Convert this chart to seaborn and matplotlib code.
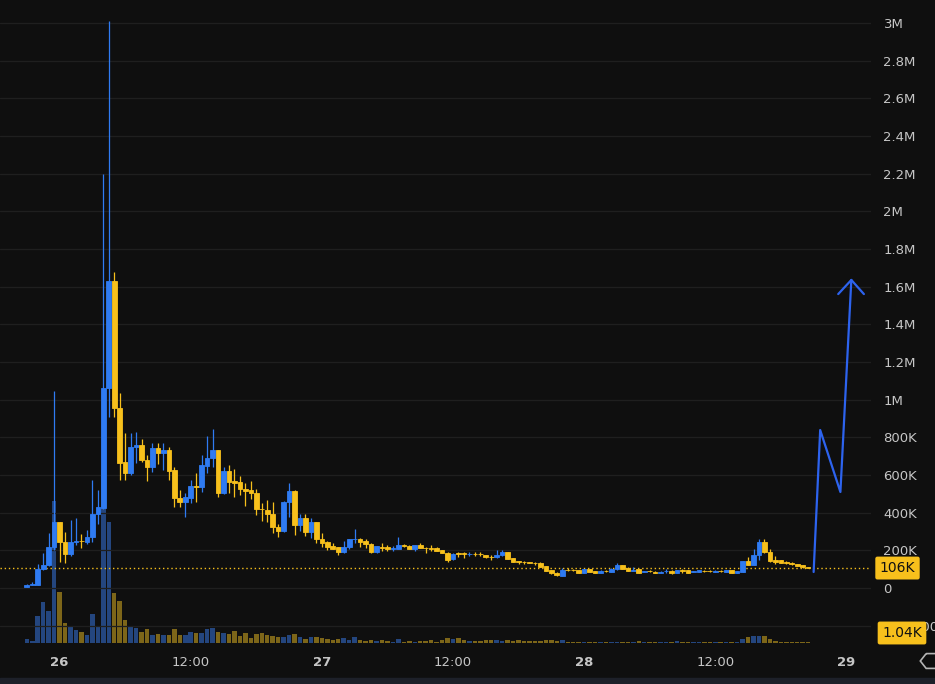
import numpy as np
import pandas as pd
import matplotlib
matplotlib.use("Agg")
import matplotlib.pyplot as plt
import seaborn as sns
from matplotlib.patches import Rectangle, RegularPolygon, Circle

# ---------------- data (prices in K, volume in K) ----------------
start_time = "2024-01-25 21:00"
opens_k = [4, 16, 16, 101, 120, 218, 349, 243, 182, 246,
           250, 246, 269, 393, 426, 1060, 1630, 956, 669, 609,
           747, 759, 680, 644, 742, 715, 733, 627, 480, 458,
           476, 540, 538, 649, 689, 733, 503, 621, 568, 563,
           526, 520, 503, 419, 414, 391, 322, 304, 458, 515,
           335, 370, 299, 352, 259, 244, 223, 216, 193, 216,
           258, 260, 250, 232, 193, 217, 219, 208, 209, 228,
           223, 209, 228, 215, 214, 214, 202, 188, 152, 185,
           185, 180, 182, 182, 174, 167, 163, 174, 191, 159,
           141, 138, 137, 135, 134, 117, 96, 81, 64, 97,
           96, 96, 81, 101, 90, 81, 91, 87, 99, 122,
           108, 92, 101, 85, 91, 87, 82, 89, 92, 81,
           93, 96, 85, 85, 92, 91, 87, 91, 87, 96,
           82, 87, 143, 122, 175, 246, 193, 149, 149, 140,
           131, 127, 120, 110]
highs_k = [21, 30, 126, 184, 290, 1046, 352, 296, 360, 372,
           287, 308, 573, 520, 2200, 3010, 1680, 1035, 823, 823,
           828, 791, 706, 768, 772, 772, 750, 640, 520, 503,
           573, 609, 706, 807, 843, 735, 641, 653, 630, 595,
           556, 568, 526, 450, 467, 458, 340, 460, 556, 520,
           393, 393, 370, 352, 290, 250, 241, 220, 251, 262,
           312, 267, 260, 241, 225, 241, 230, 223, 272, 235,
           226, 230, 241, 219, 228, 216, 204, 190, 184, 193,
           193, 193, 193, 193, 177, 175, 202, 202, 193, 161,
           143, 143, 140, 138, 136, 119, 98, 87, 104, 106,
           99, 98, 101, 103, 92, 94, 96, 104, 131, 123,
           113, 110, 103, 92, 94, 89, 89, 101, 94, 97,
           99, 97, 92, 96, 94, 96, 94, 93, 97, 98,
           90, 146, 163, 205, 260, 259, 205, 170, 151, 142,
           140, 129, 122, 112]
lows_k = [3, 15, 14, 98, 115, 202, 140, 134, 172, 230,
          214, 235, 246, 340, 420, 910, 908, 573, 573, 600,
          664, 670, 570, 618, 659, 627, 573, 432, 432, 379,
          450, 458, 511, 609, 640, 482, 500, 506, 482, 494,
          435, 473, 388, 357, 352, 294, 272, 300, 375, 282,
          304, 276, 264, 241, 219, 202, 205, 175, 184, 205,
          237, 219, 214, 184, 188, 198, 198, 198, 209, 219,
          207, 198, 212, 188, 198, 196, 186, 140, 150, 166,
          157, 168, 168, 172, 161, 149, 161, 172, 154, 138,
          126, 129, 131, 124, 111, 88, 76, 65, 63, 90,
          90, 80, 80, 85, 79, 80, 85, 86, 97, 99,
          90, 90, 79, 83, 86, 80, 80, 81, 74, 80,
          81, 79, 83, 84, 86, 84, 85, 86, 86, 80,
          80, 85, 120, 120, 149, 185, 140, 127, 132, 129,
          120, 116, 108, 104]
closes_k = [16, 23, 101, 120, 218, 349, 243, 182, 243, 248,
            247, 269, 393, 432, 1060, 1630, 956, 665, 609, 747,
            759, 680, 644, 742, 715, 733, 623, 476, 458, 482,
            542, 536, 653, 689, 733, 503, 621, 565, 559, 524,
            517, 503, 418, 417, 391, 322, 304, 458, 515, 335,
            370, 299, 352, 259, 237, 219, 209, 193, 216, 259,
            260, 246, 232, 193, 223, 215, 205, 210, 228, 223,
            209, 228, 214, 213, 205, 198, 188, 149, 181, 183,
            183, 182, 180, 180, 163, 165, 177, 191, 156, 140,
            139, 136, 135, 133, 113, 92, 78, 67, 96, 94,
            95, 81, 99, 87, 81, 92, 89, 101, 122, 101,
            92, 97, 81, 90, 89, 82, 87, 90, 81, 96,
            91, 81, 90, 94, 89, 89, 92, 88, 96, 81,
            88, 143, 122, 175, 246, 193, 143, 140, 134, 131,
            129, 118, 110, 106]
volumes_k = [4, 2, 27, 41, 32, 142, 51, 20, 16, 13,
             11, 8, 29, 17, 173, 121, 50, 42, 23, 16,
             15, 11, 14, 8, 9, 8, 8, 14, 8, 8,
             11, 10, 10, 14, 15, 11, 10, 9, 12, 7,
             10, 5, 9, 10, 8, 7, 6, 6, 8, 9,
             6, 4, 6, 6, 5, 4, 3, 4, 5, 3,
             6, 3, 2, 3, 2, 3, 2, 1.5, 4, 1.5,
             2, 1.5, 2, 2, 2.7, 1.3, 2.7, 4.7, 4, 4.7,
             3.3, 1.7, 1.7, 1.7, 2.7, 2.7, 3.3, 1.7, 2.7, 1.7,
             2.7, 1.7, 1.7, 1.7, 1.7, 3.3, 2.7, 1.7, 2.7, 1.3,
             1.3, 1.3, 1.3, 1.3, 1.3, 1.3, 1.3, 1.3, 1.3, 1.3,
             1.3, 1.3, 2.3, 1.3, 1.3, 1.3, 1.3, 1.3, 1.3, 2.3,
             1.3, 1.3, 0.6, 0.6, 1.2, 1.2, 1.2, 1.2, 1.2, 1.2,
             1.2, 3.7, 5.7, 7.3, 7.3, 7.3, 3.7, 2.3, 1.0, 1.0,
             1.0, 1.0, 1.0, 1.04]

# hand-drawn arrow annotation (time, price K)
arrow_times = ["2024-01-28 21:00", "2024-01-28 21:36", "2024-01-28 23:27", "2024-01-29 00:27"]
arrow_prices_k = [85, 839, 510, 1636]
head_times = ["2024-01-28 23:15", "2024-01-29 00:27", "2024-01-29 01:36"]
head_prices_k = [1561, 1636, 1561]

tick_times = ["2024-01-26 00:00", "2024-01-26 12:00", "2024-01-27 00:00", "2024-01-27 12:00",
              "2024-01-28 00:00", "2024-01-28 12:00", "2024-01-29 00:00"]
tick_labels = ["26", "12:00", "27", "12:00", "28", "12:00", "29"]
price_ticks = list(range(-200000, 3000001, 200000))
last_price_label = "106K"
last_volume_label = "1.04K"

# ---------------- style ----------------
BG = "#0f0f0f"
UP = "#2f7bf2"
DOWN = "#f7c01c"
UP_VOL = "#24467f"
DOWN_VOL = "#7d6619"
GRID = "#1f1f1f"
TXT = "#c6c6c6"

sns.set_theme(style="dark", rc={"figure.facecolor": BG, "axes.facecolor": BG,
                                "axes.edgecolor": BG, "grid.color": GRID})
plt.rcParams["font.family"] = ["DejaVu Sans"]

df = pd.DataFrame({
    "time": pd.date_range(start_time, periods=len(opens_k), freq="30min"),
    "open": np.array(opens_k) * 1e3, "high": np.array(highs_k) * 1e3,
    "low": np.array(lows_k) * 1e3, "close": np.array(closes_k) * 1e3,
    "volume": volumes_k,
})
df["up"] = df["close"] >= df["open"]

W, H = 935, 684
fig = plt.figure(figsize=(W / 100, H / 100), dpi=100)
fig.patch.set_facecolor(BG)
rect = [0, 36 / H, 871 / W, 648 / H]
ax_vol = fig.add_axes(rect, zorder=1)
ax = fig.add_axes(rect, zorder=2)
ax.set_facecolor("none")
ax_vol.set_facecolor(BG)

step = pd.Timedelta(minutes=30)
t0 = df["time"].iloc[0]
xmin = t0 - 4.906 * step
xmax = t0 + 154.5 * step
day = 1.0  # matplotlib date units = days
body_w = 0.85 * (30 / 1440)
vol_w = 0.82 * (30 / 1440)

# volume pane
ax_vol.bar(df["time"], df["volume"], width=vol_w,
           color=np.where(df["up"], UP_VOL, DOWN_VOL), linewidth=0)
ax_vol.set_ylim(-5, 643)
ax_vol.set_xlim(xmin, xmax)
ax_vol.axis("off")

# price pane
ax.set_xlim(xmin, xmax)
ax.set_ylim(-318.6e3, 3122.7e3)
ax.set_yticks(price_ticks)

def fmt(v):
    if v == 0:
        return "0"
    if v < 0:
        return str(int(v))
    if v >= 1e6:
        return f"{v / 1e6:g}M"
    return f"{v / 1e3:g}K"

ax.set_yticklabels([fmt(v) for v in price_ticks])
ax.yaxis.tick_right()
ax.tick_params(axis="y", length=0, pad=9.0, labelsize=9.5, labelcolor=TXT)
ax.grid(axis="y", color=GRID, linewidth=0.9)
ax.grid(axis="x", visible=False)
ax.set_axisbelow(True)
for s in ax.spines.values():
    s.set_visible(False)

ax.set_xticks(pd.to_datetime(tick_times))
ax.set_xticklabels(tick_labels)
ax.tick_params(axis="x", length=0, pad=6, labelsize=9.5, labelcolor=TXT)
for lab, txt in zip(ax.get_xticklabels(), tick_labels):
    if ":" not in txt:
        lab.set_fontweight("bold")

colors = np.where(df["up"], UP, DOWN)
ax.vlines(df["time"], df["low"], df["high"], colors=colors, linewidth=0.9, zorder=3)
body_lo = np.minimum(df["open"], df["close"])
body_h = np.abs(df["close"] - df["open"])
ax.bar(df["time"], body_h, bottom=body_lo, width=body_w, color=colors,
       edgecolor=colors, linewidth=0.6, zorder=4)

# last price dotted line and label
last_close = df["close"].iloc[-1]
ax.axhline(last_close, color=DOWN, linestyle=(0, (1, 2)), linewidth=1.0, zorder=2)
ax.annotate(last_price_label, xy=(897.5 / W, last_close), xycoords=("figure fraction", "data"),
            ha="center", va="center", fontsize=10, color="#111111", annotation_clip=False,
            bbox=dict(boxstyle="round,pad=0.32,rounding_size=0.15", fc=DOWN, ec="none"), zorder=10)
fig.text(902 / W, 1 - 633 / H, last_volume_label, ha="center", va="center", fontsize=10,
         color="#111111", zorder=10,
         bbox=dict(boxstyle="round,pad=0.32,rounding_size=0.15", fc=DOWN, ec="none"))

# hand-drawn arrow
sns.lineplot(x=pd.to_datetime(arrow_times), y=np.array(arrow_prices_k) * 1e3, sort=False,
             color="#2d63ee", linewidth=1.6, ax=ax, zorder=6, estimator=None)
sns.lineplot(x=pd.to_datetime(head_times), y=np.array(head_prices_k) * 1e3, sort=False,
             color="#2d63ee", linewidth=1.6, ax=ax, zorder=6, estimator=None)
ax.set_xlabel("")
ax.set_ylabel("")
ax.set_xlim(xmin, xmax)

# bottom band and settings icon
fig.add_artist(Rectangle((0, 0), 1, 6 / H, transform=fig.transFigure, color="#1d2029", zorder=0))
fig.add_artist(RegularPolygon((932 / W, 1 - 661 / H), numVertices=6, radius=0.0125,
                              orientation=np.pi / 6, transform=fig.transFigure, fill=False,
                              ec="#b5b5b5", lw=1.2))

fig.savefig("out.png", dpi=100, facecolor=BG)
